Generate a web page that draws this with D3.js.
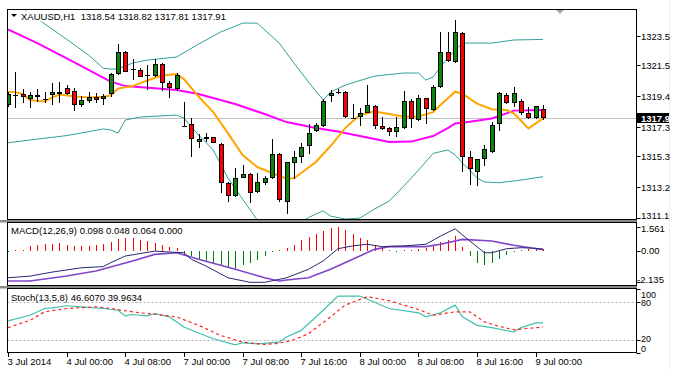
<!DOCTYPE html>
<html>
<head>
<meta charset="utf-8">
<script src="https://cdn.jsdelivr.net/npm/d3@7"></script>
<style>
  body { margin: 0; background: #fff; }
  text { font-family: "Liberation Sans", Arial, sans-serif; font-size: 9.5px; fill: #000; }
</style>
</head>
<body>
<div id="chart"></div>
<script>
// bars, H1 XAUUSD 3-9 Jul 2014
var openP  = [1318.80,1319.49,1319.55,1319.23,1319.46,1319.23,1319.50,1319.55,1319.98,1319.77,
              1318.80,1319.07,1319.37,1319.19,1319.55,1320.91,1322.43,1321.23,1321.18,1320.84,
              1320.77,1321.59,1320.28,1319.89,1317.37,1317.51,1316.26,1316.46,1316.60,1316.14,
              1313.51,1312.62,1313.85,1314.10,1312.85,1313.51,1313.85,1315.46,1312.21,1314.87,
              1315.28,1316.01,1317.05,1317.37,1319.41,1319.71,1319.71,1317.93,1317.96,1318.28,
              1318.73,1317.37,1317.21,1316.98,1317.21,1319.09,1317.78,1319.26,1318.46,1320.01,
              1322.43,1321.75,1323.72,1315.24,1314.26,1315.10,1315.62,1317.51,1319.48,1318.96,
              1319.09,1318.28,1317.89,1318.54];
var highP  = [1319.68,1321.07,1319.89,1319.71,1319.87,1319.71,1320.28,1320.39,1320.16,1319.94,
              1319.41,1319.71,1319.60,1319.55,1320.96,1322.95,1322.48,1321.91,1321.30,1321.52,
              1321.91,1321.64,1320.45,1320.96,1319.02,1317.89,1316.82,1316.87,1316.65,1316.19,
              1313.58,1314.49,1314.71,1314.15,1314.15,1313.96,1316.46,1315.51,1314.94,1315.69,
              1316.23,1317.51,1317.59,1319.19,1319.82,1319.87,1319.75,1318.87,1318.57,1320.16,
              1318.80,1318.00,1317.33,1317.98,1319.75,1319.19,1319.51,1319.28,1320.16,1323.75,
              1323.75,1324.59,1323.75,1315.69,1315.12,1316.08,1317.66,1319.71,1319.60,1320.01,
              1319.19,1318.64,1318.75,1318.82];
var lowP   = [1318.66,1318.60,1318.96,1318.57,1319.02,1318.96,1318.78,1318.92,1319.48,1318.41,
              1318.64,1318.96,1318.96,1318.78,1319.32,1320.84,1321.02,1320.50,1320.69,1319.82,
              1320.69,1319.77,1319.26,1319.77,1317.30,1315.28,1315.85,1316.30,1316.19,1312.83,
              1312.21,1312.56,1313.81,1312.15,1312.83,1313.35,1313.74,1312.21,1311.38,1313.74,
              1314.87,1315.46,1316.98,1317.32,1319.02,1319.55,1317.93,1317.85,1317.37,1318.23,
              1317.15,1317.10,1316.69,1316.60,1317.15,1317.21,1317.74,1317.54,1318.41,1319.94,
              1321.75,1321.68,1314.26,1313.35,1313.28,1314.65,1315.51,1317.03,1318.87,1318.64,
              1318.12,1317.83,1317.83,1317.81];
var closeP = [1319.55,1319.47,1319.32,1319.46,1319.32,1319.22,1319.66,1319.71,1319.55,1318.80,
              1319.14,1319.32,1319.14,1319.41,1320.91,1322.39,1321.07,1321.22,1320.73,1320.83,
              1321.59,1320.32,1319.94,1320.84,1317.36,1316.48,1316.48,1316.60,1316.19,1313.51,
              1312.62,1313.85,1314.08,1312.79,1313.54,1313.85,1315.46,1312.33,1314.90,1315.24,
              1315.96,1316.91,1317.44,1319.09,1319.64,1319.70,1317.96,1317.92,1318.28,1318.80,
              1317.37,1317.15,1316.98,1317.32,1319.07,1317.83,1319.26,1318.51,1320.01,1322.43,
              1321.82,1323.75,1315.24,1314.44,1315.10,1315.78,1317.44,1319.64,1318.96,1319.64,
              1318.23,1317.93,1318.73,1317.91];

// indicator lines: [bar, value]
var bbUpper = [[0,1326.09],[4,1324.68],[7,1323.63],[9,1322.92],[11,1322.20],[13,1321.30],[14,1321.25],
               [15,1321.25],[17,1321.66],[19,1321.86],[23,1322.07],[26,1322.95],[29,1323.77],[32,1324.38],
               [34,1324.38],[37,1323.02],[39,1321.66],[41,1320.37],[43,1319.14],[44,1319.68],[46,1320.16],
               [50,1320.77],[54,1320.98],[56,1320.98],[57,1320.50],[58,1320.71],[59,1321.39],[60,1322.00],
               [61,1322.55],[62,1323.02],[64,1323.02],[66,1323.02],[69,1323.23],[73,1323.27]];
var bbLower = [[0,1316.23],[3,1316.42],[8,1316.72],[13,1317.17],[14,1317.10],[15,1316.89],[16,1317.78],
               [18,1317.98],[23,1318.12],[24,1317.91],[26,1316.76],[28,1315.74],[30,1313.83],[32,1312.40],
               [34,1310.97],[36,1310.29],[39,1310.56],[41,1311.14],[43,1311.60],[44,1311.24],[46,1311.04],
               [48,1311.10],[50,1311.72],[52,1312.26],[54,1313.28],[56,1314.37],[58,1315.51],[60,1315.74],
               [61,1315.39],[62,1314.85],[63,1314.37],[64,1313.83],[65,1313.56],[67,1313.51],[70,1313.69],
               [73,1313.92]];
var maSlow = [[0,1323.95],[4,1323.02],[9,1321.73],[14,1320.39],[16,1320.09],[20,1319.94],[23,1319.82],
              [26,1319.55],[31,1318.87],[35,1318.19],[38,1317.64],[42,1317.23],[45,1317.00],[48,1316.69],
              [52,1316.28],[55,1316.31],[58,1316.69],[60,1317.23],[61,1317.55],[63,1317.66],[66,1317.89],
              [68,1318.23],[69,1318.42],[73,1318.46]];
var maFast = [[0,1319.71],[1,1319.68],[2,1319.55],[3,1319.14],[5,1319.04],[6,1319.31],[7,1319.52],
              [9,1319.39],[11,1319.32],[13,1319.37],[14,1319.45],[15,1319.92],[17,1320.09],[19,1320.47],
              [21,1320.81],[23,1320.91],[24,1320.57],[26,1319.38],[28,1318.32],[30,1316.89],[32,1315.39],
              [34,1314.58],[36,1314.17],[38,1313.79],[39,1313.81],[40,1314.17],[42,1314.92],[44,1316.01],
              [46,1317.23],[48,1318.12],[50,1318.36],[52,1318.19],[54,1318.00],[56,1318.02],[58,1318.32],
              [59,1318.80],[61,1319.71],[62,1319.55],[64,1318.90],[66,1318.51],[68,1318.46],[69,1318.23],
              [71,1317.21],[72,1317.55],[73,1317.89]];

var macdHist = [-0.05,0.03,0.05,0.29,0.36,0.44,0.47,0.52,0.40,0.33,
                0.33,0.33,0.40,0.47,0.56,0.79,0.85,0.85,0.70,0.63,
                0.52,0.40,0.25,0.18,-0.27,-0.38,-0.60,-0.71,-0.83,-0.94,
                -1.17,-1.23,-0.94,-0.83,-0.65,-0.38,-0.05,0.02,0.18,0.40,
                0.70,0.92,1.08,1.30,1.52,1.56,1.36,1.08,0.85,0.70,
                0.40,0.18,0.02,-0.02,0.03,0.04,0.11,0.18,0.33,0.56,
                0.70,0.96,0.22,-0.38,-0.83,-0.98,-0.83,-0.60,-0.27,-0.05,
                0.03,0.11,0.13,0.11];
var macdMain = [[0,-1.83],[3,-1.72],[6,-1.45],[10,-1.16],[13,-1.08],[14,-0.82],[16,-0.37],[20,-0.04],
                [22,-0.10],[24,-0.15],[25,-0.59],[27,-1.04],[30,-1.83],[33,-2.135],[35,-2.135],[37,-1.94],
                [38,-1.83],[41,-1.26],[43,-0.70],[45,0.12],[47,0.31],[49,0.42],[51,0.26],[54,0.31],
                [57,0.42],[59,0.97],[61,1.46],[63,0.64],[65,-0.15],[66,-0.15],[68,0.12],[70,0.19],
                [72,0.15],[73,0.10]];
var macdSignal = [[0,-2.05],[3,-2.05],[8,-1.71],[12,-1.38],[17,-0.70],[20,-0.26],[23,-0.15],[26,-0.59],
                  [31,-1.26],[35,-1.83],[37,-2.05],[38,-1.98],[41,-1.83],[44,-1.26],[48,-0.37],[50,0.08],
                  [52,0.26],[57,0.26],[59,0.42],[62,0.75],[66,0.64],[69,0.35],[73,0.05]];

var stochMain = [[0,49.8],[3,58.7],[5,69.3],[6,70.4],[8,73.6],[10,72.0],[13,69.3],[15,66.6],[16,57.7],
                 [17,59.8],[19,57.7],[20,61.4],[22,56.1],[24,40.2],[26,30.7],[28,21.6],[31,12.1],[32,15.3],
                 [34,13.7],[37,16.4],[38,24.3],[40,34.8],[43,66.6],[45,88.9],[48,88.9],[52,69.3],[56,62.5],
                 [57,56.1],[59,62.5],[61,74.6],[62,56.1],[64,42.8],[66,39.1],[69,32.3],[70,39.1],[72,46.6],
                 [73,46.6]];
var stochSignal = [[0,39.1],[3,50.7],[5,64.1],[8,69.3],[12,72.0],[14,69.3],[16,65.7],[18,62.5],[20,60.3],
                   [23,56.1],[26,42.8],[29,26.9],[32,16.4],[35,12.6],[37,14.5],[39,20.0],[41,29.6],[44,56.1],
                   [46,74.6],[49,87.9],[52,81.6],[56,67.7],[58,58.7],[61,64.1],[63,64.1],[65,48.2],[67,41.2],
                   [69,35.9],[73,40.0]];
var stochLevels = [20, 80];

var priceTicks = [1323.5, 1321.5, 1319.4, 1317.3, 1315.3, 1313.2, 1311.1];
var macdTicks = [1.561, 0.00, -2.135];
var macdTickLabels = ["1.561", "0.00", "-2.135"];
var stochTicks = [100, 80, 20, 0];
var timeTickBars = [0, 8, 16, 24, 32, 40, 48, 56, 64, 72];
var timeTickLabels = ["3 Jul 2014", "4 Jul 00:00", "4 Jul 08:00", "7 Jul 00:00", "7 Jul 08:00",
                      "7 Jul 16:00", "8 Jul 00:00", "8 Jul 08:00", "8 Jul 16:00", "9 Jul 00:00"];
var lastPrice = 1317.91;
var mainTitle = "XAUUSD,H1  1318.54 1318.82 1317.81 1317.91";
var macdTitle = "MACD(12,26,9) 0.098 0.048 0.064 0.000";
var stochTitle = "Stoch(13,5,8) 46.6070 39.9634";

var W = 677, H = 370;
var left = 7.5, right = 636.5;
var panes = {
  main:  {top: 9.5,   bottom: 219.5},
  macd:  {top: 222.5, bottom: 285.5},
  stoch: {top: 288.5, bottom: 352.5}
};

var x = d3.scaleLinear().domain([0, 73]).range([8, 543.1]);
var y = d3.scaleLinear().domain([1311.04, 1325.34]).range([219, 9]);
var yMacd = d3.scaleLinear().domain([-2.135, 1.561]).range([282.3, 227.3]);
var yStoch = d3.scaleLinear().domain([0, 100]).range([352.5, 289]);

var svg = d3.select("#chart").append("svg")
  .attr("width", W)
  .attr("height", H);

var defs = svg.append("defs");
Object.keys(panes).forEach(function(k) {
  var p = panes[k];
  defs.append("clipPath").attr("id", "clip-" + k)
    .append("rect")
    .attr("x", left + 0.5).attr("y", p.top + 0.5)
    .attr("width", right - left - 1).attr("height", p.bottom - p.top - 1);
});

// splitters between windows
[219.5, 285.5].forEach(function(b) {
  svg.append("rect").attr("x", 0).attr("y", b + 0.5).attr("width", 637).attr("height", 2.5)
    .attr("fill", "#8a8a8a");
});

// right edge of the window
svg.append("line").attr("x1", 669.5).attr("x2", 669.5).attr("y1", 0).attr("y2", H)
  .attr("stroke", "#ececec");

// frames
Object.keys(panes).forEach(function(k) {
  var p = panes[k];
  svg.append("rect").attr("x", left).attr("y", p.top)
    .attr("width", right - left).attr("height", p.bottom - p.top)
    .attr("fill", "none").attr("stroke", "#000").attr("shape-rendering", "crispEdges");
});

function lineFor(ys) {
  return d3.line().x(function(d) { return x(d[0]); }).y(function(d) { return ys(d[1]); });
}

// ---- main window
var gMain = svg.append("g").attr("clip-path", "url(#clip-main)");

gMain.append("line")
  .attr("x1", left).attr("x2", right)
  .attr("y1", Math.round(y(lastPrice)) + 0.5).attr("y2", Math.round(y(lastPrice)) + 0.5)
  .attr("stroke", "#c0c0c0");

[bbUpper, bbLower].forEach(function(s) {
  gMain.append("path").datum(s).attr("d", lineFor(y))
    .attr("fill", "none").attr("stroke", "#2fa196").attr("stroke-width", 1);
});
gMain.append("path").datum(maSlow).attr("d", lineFor(y))
  .attr("fill", "none").attr("stroke", "#ff00ff").attr("stroke-width", 2);
gMain.append("path").datum(maFast).attr("d", lineFor(y))
  .attr("fill", "none").attr("stroke", "#ffa500").attr("stroke-width", 2);

openP.forEach(function(o, i) {
  var px = Math.round(x(i));
  var yh = Math.round(y(highP[i])), yl = Math.round(y(lowP[i]));
  gMain.append("rect").attr("x", px).attr("y", yh)
    .attr("width", 1).attr("height", Math.max(1, yl - yh)).attr("fill", "#000");
  var yo = Math.round(y(o)), yc = Math.round(y(closeP[i]));
  var top = Math.min(yo, yc), bot = Math.max(yo, yc);
  if (bot - top < 2) {
    gMain.append("rect").attr("x", px - 2).attr("y", top).attr("width", 5).attr("height", 1)
      .attr("fill", "#000");
  } else {
    gMain.append("rect")
      .attr("x", px - 1.5).attr("y", top + 0.5)
      .attr("width", 4).attr("height", bot - top - 1)
      .attr("fill", closeP[i] >= o ? "#0e840e" : "#ff0000")
      .attr("stroke", "#000").attr("stroke-width", 1);
  }
});

// title over a white patch, like the terminal does
var tMain = svg.append("g");
var tPatch = tMain.append("rect").attr("fill", "#fff");
tMain.append("path").attr("d", "M11,14 L17,14 L14,17 Z").attr("fill", "#000");
var tText = tMain.append("text").attr("x", 21).attr("y", 19.5).text(mainTitle)
  .style("white-space", "pre");
var bb = tText.node().getBBox();
tPatch.attr("x", 9).attr("y", bb.y).attr("width", bb.x + bb.width - 7).attr("height", bb.height);

// chart shift marker
svg.append("path").attr("d", "M556,10 L564,10 L560,14 Z").attr("fill", "#a8a8a8");

// price scale
priceTicks.forEach(function(p) {
  var yy = Math.min(Math.round(y(p)), 215);
  svg.append("line").attr("x1", right).attr("x2", right + 4)
    .attr("y1", Math.round(y(p)) + 0.5).attr("y2", Math.round(y(p)) + 0.5).attr("stroke", "#000");
  svg.append("text").attr("x", 641).attr("y", yy + 3.5).text(d3.format(".1f")(p));
});
var gBox = svg.append("g");
defs.append("clipPath").attr("id", "clip-box").append("rect")
  .attr("x", 637).attr("y", 0).attr("width", 32).attr("height", H);
gBox.attr("clip-path", "url(#clip-box)");
gBox.append("rect").attr("x", 637).attr("y", Math.round(y(lastPrice)) - 5)
  .attr("width", 40).attr("height", 10).attr("fill", "#000");
gBox.append("text").attr("x", 641).attr("y", Math.round(y(lastPrice)) + 3.5)
  .style("fill", "#fff").style("font-weight", "bold").text(d3.format(".2f")(lastPrice));

// ---- MACD window
var gMacd = svg.append("g").attr("clip-path", "url(#clip-macd)");
var zeroY = Math.round(yMacd(0));
macdHist.forEach(function(v, i) {
  var px = Math.round(x(i));
  var yv = Math.round(yMacd(v));
  var y0 = Math.min(yv, zeroY), h = Math.max(1, Math.abs(yv - zeroY));
  gMacd.append("rect").attr("x", px).attr("y", y0).attr("width", 1).attr("height", h)
    .attr("fill", v >= 0 ? "#ff0000" : "#008000");
});
gMacd.append("path").datum(macdSignal).attr("d", lineFor(yMacd))
  .attr("fill", "none").attr("stroke", "#8045c8").attr("stroke-width", 1.6);
gMacd.append("path").datum(macdMain).attr("d", lineFor(yMacd))
  .attr("fill", "none").attr("stroke", "#2a2670").attr("stroke-width", 1);
svg.append("text").attr("x", 11).attr("y", 234).text(macdTitle);
macdTicks.forEach(function(v, k) {
  var yy = Math.max(panes.macd.top + 6, Math.min(panes.macd.bottom - 6, yMacd(v)));
  svg.append("line").attr("x1", right).attr("x2", right + 4)
    .attr("y1", Math.round(yMacd(v)) + 0.5).attr("y2", Math.round(yMacd(v)) + 0.5).attr("stroke", "#000");
  svg.append("text").attr("x", v < 0 ? 637 : 641).attr("y", yy + 3.5).text(macdTickLabels[k]);
});

// ---- Stochastic window
var gSto = svg.append("g").attr("clip-path", "url(#clip-stoch)");
stochLevels.forEach(function(l) {
  gSto.append("line").attr("x1", left).attr("x2", right)
    .attr("y1", Math.round(yStoch(l)) + 0.5).attr("y2", Math.round(yStoch(l)) + 0.5)
    .attr("stroke", "#b4b4b4").attr("stroke-dasharray", "2,2");
});
gSto.append("path").datum(stochMain).attr("d", lineFor(yStoch))
  .attr("fill", "none").attr("stroke", "#3fbfae").attr("stroke-width", 1.2);
gSto.append("path").datum(stochSignal).attr("d", lineFor(yStoch))
  .attr("fill", "none").attr("stroke", "#ff2020").attr("stroke-width", 1.2)
  .attr("stroke-dasharray", "3,3");
svg.append("text").attr("x", 11).attr("y", 300.5).text(stochTitle);
// labels are pushed inside the window the way the terminal clamps them
var stochLabelY = {100: 294, 80: 302.5, 20: 338.5, 0: 348};
stochTicks.forEach(function(v) {
  svg.append("line").attr("x1", right).attr("x2", right + 4)
    .attr("y1", Math.round(yStoch(v)) + 0.5).attr("y2", Math.round(yStoch(v)) + 0.5).attr("stroke", "#000");
  svg.append("text").attr("x", 641).attr("y", stochLabelY[v] + 3.5).style("font-size", "9px").text(v);
});

// ---- time scale
timeTickBars.forEach(function(b, k) {
  var px = Math.round(x(b)) + 0.5;
  svg.append("line").attr("x1", px).attr("x2", px).attr("y1", 352.5).attr("y2", 357)
    .attr("stroke", "#000");
  svg.append("text").attr("x", px - 1).attr("y", 365).text(timeTickLabels[k]);
});
</script>
</body>
</html>
